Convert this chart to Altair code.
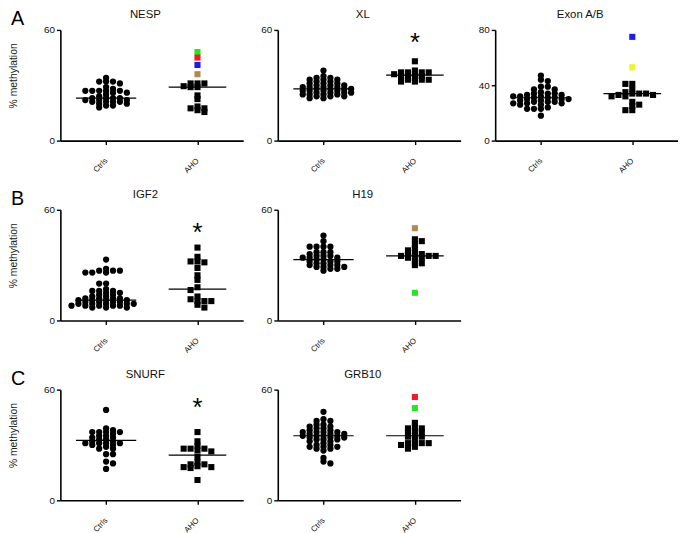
import altair as alt
import pandas as pd

# ---------------- data ----------------
GREEN, RED, BLUE, BROWN, YELLOW = "#22e822", "#ee1c24", "#1c1ce6", "#b08a52", "#f2f02e"

nesp_ctrl = [34, 32, 32, 32, 31, 29, 28, 27, 27, 27, 27, 27, 26, 26, 25, 24, 23, 23, 23, 23,
             22, 22, 22, 21, 21, 21, 21, 20, 20, 19, 19, 18]
nesp_aho = [31, 29, 29, 29.5, 31, 31, 24.5, 22.5, 18.5, 17.5, 15.5, 16.5, 17.5]
nesp_aho_col = [48, 45, 41, 36]
nesp_aho_colc = [GREEN, RED, BLUE, BROWN]

xl_ctrl = [38, 35, 34, 34, 33, 33, 33, 32, 32, 31, 31, 31, 30, 30, 30, 29, 29, 29, 29, 28, 28,
           28, 28, 27, 27, 27, 27, 26, 26, 26, 26, 25, 25, 25, 25, 24, 24, 24, 23, 23]
xl_aho = [43, 38, 37, 37, 37, 37, 36, 36, 35, 35, 34, 34, 33, 33, 33, 32, 32]

exon_ctrl = [47, 44, 43, 39, 39, 37, 37, 35, 34, 34, 34, 33, 33, 32, 32, 32, 31, 31, 31, 30, 30,
             30, 29, 29, 28, 28, 28, 27, 27, 27, 26, 26, 24, 23, 23, 23, 18]
exon_aho = [41, 41, 37, 35, 34, 34, 34, 33, 33, 32, 32, 28, 26, 25, 22, 22]
exon_aho_col = [75, 53]
exon_aho_colc = [BLUE, YELLOW]

igf2_ctrl = [33, 28, 27, 27, 27, 26, 26, 26, 20, 20, 17, 16, 16, 16, 15, 15, 14, 14, 13, 13, 12,
             12, 12, 12, 11, 11, 11, 11, 10, 10, 10, 10, 9, 9, 9, 9, 9, 8, 8, 8, 8, 8, 7, 7, 7]
igf2_aho = [39.5, 34.5, 32, 32, 31.5, 28.5, 24.5, 22, 18, 16.5, 13, 10.5, 10.5, 11.5, 10.5, 7, 8.5]

h19_ctrl = [46, 43, 40, 40, 40, 40, 37, 37, 37, 36, 35, 35, 35, 34, 34, 34, 33, 33, 32, 32, 32,
            31, 31, 30, 30, 30, 29, 29, 29, 28, 28, 27]
h19_aho = [44, 43, 41, 39, 38, 37, 36, 36, 35, 35, 35, 35, 34, 34, 32, 31, 30]
h19_aho_col = [50, 15]
h19_aho_colc = [BROWN, GREEN]

snurf_ctrl = [49, 39, 38, 37, 37, 37, 37, 36, 35, 35, 34, 34, 33, 33, 32, 32, 31, 31, 31, 31,
              30, 30, 29, 28, 28, 25, 25, 21, 20, 17]
snurf_aho = [37, 32, 29.5, 28, 28, 28, 27, 26.5, 23.5, 20.5, 19.5, 19.5, 18.5, 18, 18, 17.5, 11]

grb10_ctrl = [48, 44, 43, 43, 41, 41, 40, 40, 39, 39, 38, 38, 37, 37, 37, 37, 36, 36, 36, 35, 35,
              35, 35, 34, 34, 34, 33, 33, 33, 32, 32, 31, 30, 30, 29, 29, 29, 28, 28, 27, 23, 21, 20]
grb10_aho = [42, 40, 39, 39, 37.5, 37, 37, 35, 34.5, 34.5, 33, 31, 31, 31, 31, 30, 29, 28]
grb10_aho_col = [56, 50]
grb10_aho_colc = [RED, GREEN]

# medians (Ctrls, AHO) and asterisk heights
medians = {"NESP": (23, 29), "XL": (28, 35.5), "Exon A/B": (31, 34), "IGF2": (11, 17),
           "H19": (33, 35), "SNURF": (32.5, 24.5), "GRB10": (35, 35)}
stars = {"XL": 55.7, "IGF2": 50.3, "SNURF": 52.8}

groups = ["Ctrls", "AHO"]
group_pos = [1, 3]

# ---------------- layout ----------------
W, H = 185, 112
FONT = "Liberation Sans"


def swarm(values, center, ymax):
    """Greedy scatter-dot layout: horizontal offsets (x-data units) for nearby values."""
    pxy = H / ymax
    pxx = W / 4.0
    s = 7.0          # column step (px)
    hmin = 3.6       # vertical window within which points need separate columns (px)
    wmin = 6.0
    placed = []
    xs = [0.0] * len(values)
    order = sorted(range(len(values)), key=lambda i: -values[i])
    for n, i in enumerate(order):
        yv = values[i] * pxy
        sign = 1 if n % 2 == 0 else -1
        cands = [0]
        for k in range(1, 60):
            cands += [sign * k, -sign * k]
        for k in cands:
            xv = k * s / 2.0
            if all(not (abs(xv - px) < wmin and abs(yv - py) < hmin) for px, py in placed):
                break
        placed.append((xv, yv))
        xs[i] = center + xv / pxx
    return xs


def panel(name, ctrl, aho, aho_col=(), aho_colc=(), ymax=60, first=False, letter=None):
    aho_all = list(aho) + list(aho_col)
    cols_all = ["#000000"] * len(aho) + list(aho_colc)
    cx = swarm(ctrl, group_pos[0], ymax)
    ax = swarm(aho_all, group_pos[1], ymax)
    dc = pd.DataFrame({"x": cx, "y": ctrl})
    da = pd.DataFrame({"x": ax, "y": aho_all, "c": cols_all})
    med = medians[name]
    dm = pd.DataFrame({"x": [group_pos[0] - 0.66, group_pos[1] - 0.63],
                       "x2": [group_pos[0] + 0.66, group_pos[1] + 0.63],
                       "y": list(med)})
    ticks = list(range(0, ymax + 1, 20))
    xenc = alt.X("x:Q", scale=alt.Scale(domain=[0, 4]),
                 axis=alt.Axis(values=group_pos, title=None,
                               labelExpr="datum.value == 1 ? 'Ctrls' : 'AHO'",
                               labelAngle=-45, labelAlign="right", labelBaseline="middle",
                               labelPadding=15, labelFontSize=8))
    if first:
        yaxis = alt.Axis(values=ticks, labelFontSize=10, labelPadding=2,
                         title="% methylation", titleFontSize=10.5, titleFontWeight="normal",
                         titlePadding=25, titleColor="#222", titleY=46)
    else:
        yaxis = alt.Axis(values=ticks, labelFontSize=10, labelPadding=2, title=None)
    yenc = alt.Y("y:Q", scale=alt.Scale(domain=[0, ymax]), axis=yaxis)

    circles = alt.Chart(dc).mark_circle(size=40, color="black", opacity=1).encode(x=xenc, y=yenc)
    squares = alt.Chart(da).mark_square(size=38, opacity=1).encode(
        x="x:Q", y="y:Q", color=alt.Color("c:N", scale=None))
    rules = alt.Chart(dm).mark_rule(color="black", strokeWidth=1.2).encode(
        x="x:Q", x2="x2:Q", y="y:Q")
    dt = pd.DataFrame({"t": [name]})
    title = alt.Chart(dt).mark_text(fontSize=11.5, font=FONT, align="center",
                                    baseline="middle", color="#111").encode(
        x=alt.value(86), y=alt.value(-15), text="t:N")
    layers = [circles, squares, rules, title]
    if name in stars:
        ds = pd.DataFrame({"x": [group_pos[1]], "y": [stars[name]], "t": ["*"]})
        layers.append(alt.Chart(ds).mark_text(fontSize=26, font=FONT, baseline="alphabetic",
                                              dy=13, color="black").encode(
            x="x:Q", y="y:Q", text="t:N"))
    if letter:
        dl = pd.DataFrame({"t": [letter]})
        layers.append(alt.Chart(dl).mark_text(fontSize=20, font=FONT, align="left",
                                              baseline="top", color="black").encode(
            x=alt.value(-50), y=alt.value(-20.5), text="t:N"))
    return alt.layer(*layers).properties(width=W, height=H)


rowA = alt.hconcat(
    panel("NESP", nesp_ctrl, nesp_aho, nesp_aho_col, nesp_aho_colc, first=True, letter="A"),
    panel("XL", xl_ctrl, xl_aho),
    panel("Exon A/B", exon_ctrl, exon_aho, exon_aho_col, exon_aho_colc, ymax=80),
    spacing=35, bounds="flush")
rowB = alt.hconcat(
    panel("IGF2", igf2_ctrl, igf2_aho, first=True, letter="B"),
    panel("H19", h19_ctrl, h19_aho, h19_aho_col, h19_aho_colc),
    spacing=35, bounds="flush")
rowC = alt.hconcat(
    panel("SNURF", snurf_ctrl, snurf_aho, first=True, letter="C"),
    panel("GRB10", grb10_ctrl, grb10_aho, grb10_aho_col, grb10_aho_colc),
    spacing=35, bounds="flush")

chart = alt.vconcat(rowA, rowB, rowC, spacing=14).properties(
    padding={"top": -2, "left": 0, "right": 0, "bottom": 5}).configure_view(
    strokeWidth=0).configure_axis(
    grid=False, domainColor="black", domainWidth=1.6, tickColor="black", tickWidth=1.4,
    tickSize=4, labelColor="#111", labelFont=FONT, titleFont=FONT)

chart.save("out.html", embed_options={"renderer": "svg", "actions": False})
